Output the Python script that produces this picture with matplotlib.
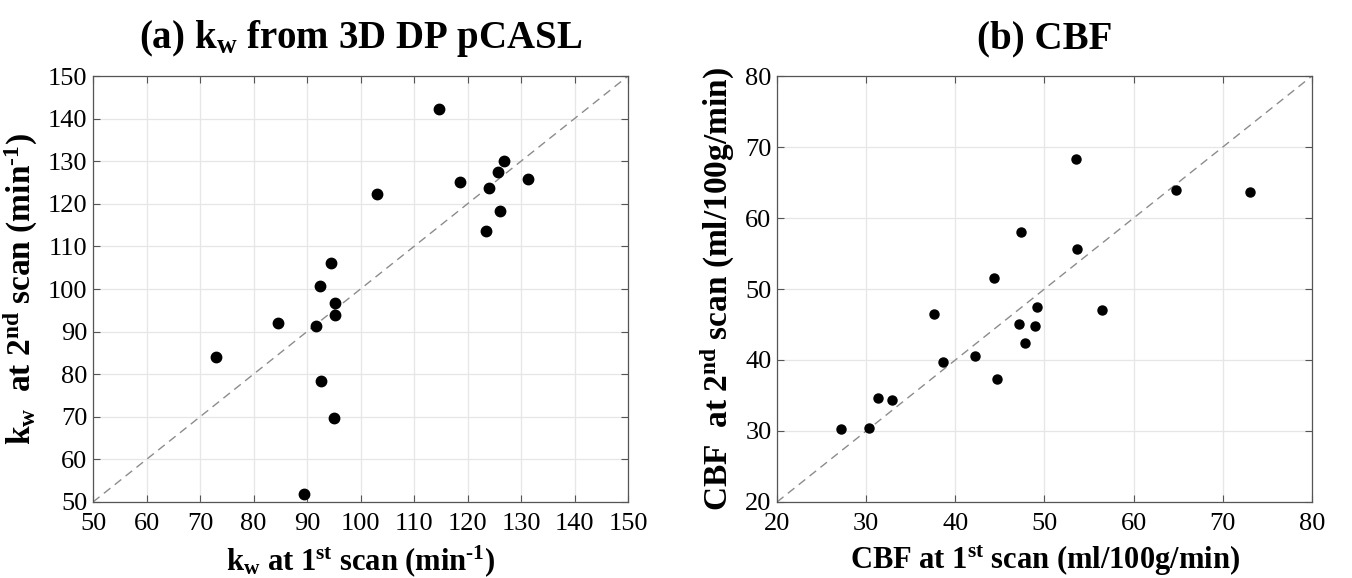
import numpy as np
import matplotlib
matplotlib.use('Agg')
from matplotlib import pyplot as plt

plt.rcParams['font.family'] = 'Liberation Serif'
plt.rcParams['mathtext.fontset'] = 'custom'
plt.rcParams['mathtext.rm'] = 'Liberation Serif'
plt.rcParams['mathtext.bf'] = 'Liberation Serif:bold'
plt.rcParams['mathtext.it'] = 'Liberation Serif:italic'

# (a) kw values, 1st vs 2nd scan
kw_scan1 = [114.6, 118.6, 126.8, 125.7, 124.1, 131.4, 126.1, 123.5, 103.0, 94.4,
            92.5, 95.2, 95.2, 84.6, 91.6, 72.9, 92.7, 95.1, 89.5]
kw_scan2 = [142.3, 125.2, 130.0, 127.5, 123.8, 125.8, 118.4, 113.7, 122.4, 106.0,
            100.6, 96.6, 93.8, 92.0, 91.3, 84.1, 78.5, 69.6, 51.8]

# (b) CBF values, 1st vs 2nd scan
cbf_scan1 = [53.5, 64.8, 73.1, 47.4, 53.6, 44.3, 37.6, 56.4, 49.2, 47.1,
             48.9, 47.8, 42.2, 38.6, 44.7, 31.3, 32.9, 27.2, 30.3]
cbf_scan2 = [68.3, 64.0, 63.6, 58.05, 55.6, 51.6, 46.5, 47.1, 47.5, 45.0,
             44.8, 42.4, 40.6, 39.7, 37.3, 34.7, 34.4, 30.3, 30.4]

kw_ticks = np.arange(50, 151, 10)
cbf_ticks = np.arange(20, 81, 10)

fig = plt.figure(figsize=(13.52, 5.78), dpi=100)
ax1 = fig.add_axes([0.0688, 0.1315, 0.3957, 0.737])
ax2 = fig.add_axes([0.5747, 0.1315, 0.3957, 0.737])


def style(ax, lim, ticks, ms, xs, ys):
    ax.plot(lim, lim, '--', color='#8c8c8c', lw=1.0, dashes=(6, 4), zorder=1)
    ax.plot(xs, ys, 'o', color='black', ms=ms, zorder=3)
    ax.set_xlim(lim)
    ax.set_ylim(lim)
    ax.set_xticks(ticks)
    ax.set_yticks(ticks)
    ax.grid(True, color='#e6e6e6', lw=0.9)
    ax.set_axisbelow(True)
    ax.tick_params(direction='in', top=True, right=True, length=5,
                   labelsize=19, color='#555555')
    ax.tick_params(axis='x', pad=8)
    ax.tick_params(axis='y', pad=4)
    for s in ax.spines.values():
        s.set_color('#555555')
        s.set_linewidth(0.9)


style(ax1, [50, 150], kw_ticks, 7.5, kw_scan1, kw_scan2)
style(ax2, [20, 80], cbf_ticks, 6.5, cbf_scan1, cbf_scan2)

ax1.set_title(r'(a) k$_\mathbf{w}$ from 3D DP pCASL', fontsize=28,
              fontweight='bold', pad=20)
ax1.set_xlabel(r'k$_\mathbf{w}$ at 1$^\mathbf{st}$ scan (min$^{\mathbf{\text{-}1}}$)',
               fontsize=22, fontweight='bold', labelpad=6)
ax1.set_ylabel(r'k$_\mathbf{w}$  at 2$^\mathbf{nd}$ scan (min$^{\mathbf{\text{-}1}}$)',
               fontsize=24, fontweight='bold', labelpad=6)

ax2.set_title('(b) CBF', fontsize=28, fontweight='bold', pad=20)
ax2.set_xlabel(r'CBF at 1$^\mathbf{st}$ scan (ml/100g/min)',
               fontsize=22, fontweight='bold', labelpad=6)
ax2.set_ylabel(r'CBF  at 2$^\mathbf{nd}$ scan (ml/100g/min)',
               fontsize=24, fontweight='bold', labelpad=6)

fig.savefig('out.png', dpi=100)
